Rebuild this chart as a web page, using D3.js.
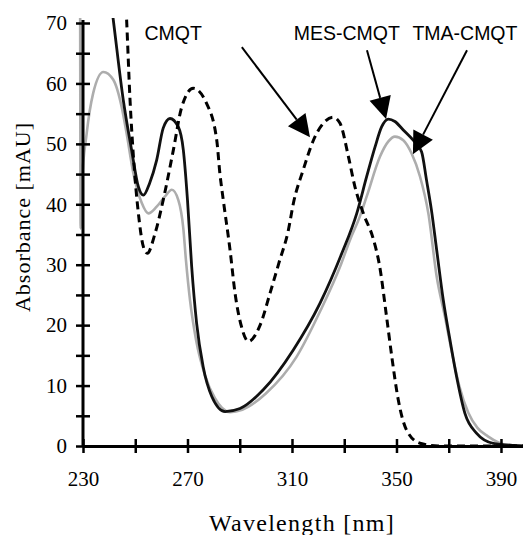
<!DOCTYPE html>
<html lang="en">
<head>
<meta charset="UTF-8">
<title>Absorbance spectra</title>
<style>
  body { margin: 0; background: #fff; }
</style>
</head>
<body>
<script src="https://d3js.org/d3.v7.min.js"></script>
<script>
    let width = 523;
    let height = 535;
    let serif = 'Liberation Serif';
    let sans = 'Liberation Sans';

    // MES-CMQT (solid black)
    let mesNm  = [240, 241.6, 245.4, 248.6, 251.2, 253.1, 255.5, 258.2, 260.7, 263.3, 266.5, 268.4, 270, 271.6, 273.5, 276, 279.3, 284.4, 290.1, 299, 310.5, 320.7, 329, 334.8, 338.6, 341.8, 344.3, 346.9, 349.4, 352.6, 356.4, 359.6, 361.5, 363.4, 365.4, 367.9, 370.5, 373, 376.2, 380.7, 387, 395, 400];
    let mesAbs = [76, 70.5, 57.3, 49.0, 42.9, 41.5, 43.5, 47.3, 52.6, 54.2, 52.8, 49.0, 40.7, 29.7, 20.3, 13.1, 8.2, 5.7, 6.2, 9.3, 15.9, 23.6, 31.8, 38.5, 44.6, 49.5, 52.8, 54.1, 53.7, 52.3, 50.6, 48.7, 44, 39, 32.4, 24.2, 17.5, 11.5, 5.4, 2.1, 0.45, 0.1, 0];

    // TMA-CMQT (grey)
    let tmaNm  = [228.9, 229.1, 229.5, 231.4, 233.9, 237.8, 241.6, 244.8, 246.7, 249.3, 252.5, 255, 258.2, 261.4, 264, 266.5, 268.4, 269.4, 271, 273.3, 276.7, 280.5, 286.3, 291, 300, 311.8, 321, 328.7, 332.2, 336, 338.6, 343.7, 346.9, 349.4, 352.6, 355.8, 359, 362.2, 365.4, 368.5, 371.2, 374, 377.5, 381, 385, 392, 400];
    let tmaAbs = [75, 36, 42.9, 51.7, 58.4, 61.9, 60.6, 56.1, 51.7, 45.1, 40.2, 38.5, 39.6, 41.3, 42.4, 40.7, 36, 30.8, 24, 17.5, 11.7, 7.9, 5.6, 6, 8.7, 14.8, 22.5, 30, 34.1, 38, 41.3, 47.9, 50.4, 51.2, 50.6, 48.4, 44.6, 38.5, 28, 21.5, 15.5, 10, 5.5, 3, 1.6, 0.2, 0];

    // CMQT (dashed)
    let cmqtNm  = [246, 246.7, 248, 249.3, 251.2, 253.1, 254.6, 257.6, 260.7, 264.6, 267.8, 272.2, 277.3, 281.2, 282.4, 283.7, 286.3, 288.2, 290.7, 293.3, 297.8, 301.6, 305, 308.6, 310.6, 314.3, 318.2, 322, 325.8, 328.4, 331.6, 334.1, 337.3, 341.1, 343.5, 346.2, 348.2, 350.7, 353.9, 359, 366, 400];
    let cmqtAbs = [77, 70.5, 57.3, 47.9, 38.5, 33, 31.9, 35.2, 40.7, 49, 56.1, 59.2, 56.7, 50.6, 45.1, 40.7, 32.4, 25.3, 19.7, 17.3, 20, 25.3, 30.3, 35.7, 40.3, 45.7, 50.6, 53.4, 54.4, 53.4, 47.9, 42.9, 38.5, 34.3, 29.9, 21.4, 14.8, 7.6, 2.6, 0.45, 0, 0];

    let xTicks = [230, 250, 270, 290, 310, 330, 350, 370, 390];
    let xLabels = [230, 270, 310, 350, 390];
    let yTicks = [0, 5, 10, 15, 20, 25, 30, 35, 40, 45, 50, 55, 60, 65, 70];

    // annotations: label, label position, arrow tail, arrow tip (data units)
    let labels = ['CMQT', 'MES-CMQT', 'TMA-CMQT'];
    let labelAt = [[264.5, 67.2], [331, 67.2], [376.2, 67.2]];
    let arrowFrom = [[290.8, 66.0], [338.7, 65.5], [377, 65.5]];
    let arrowTo = [[316.9, 51.1], [346, 54.1], [356.3, 48.3]];

    let xScale = d3.scaleLinear().domain([230, 400]).range([83, 527.1]);
    let yScale = d3.scaleLinear().domain([0, 70]).range([446, 23]);

    let svg = d3.select('body').append('svg')
        .attr('width', width)
        .attr('height', height)
        .style('display', 'block');

    svg.append('defs').append('clipPath').attr('id', 'plot')
        .append('rect').attr('x', 0).attr('y', 18).attr('width', width).attr('height', 432);

    let line = d3.line()
        .x(d => xScale(d[0]))
        .y(d => yScale(d[1]))
        .curve(d3.curveMonotoneX);

    let zip = (a, b) => a.map((v, i) => [v, b[i]]);

    let curves = svg.append('g').attr('clip-path', 'url(#plot)');
    curves.append('path')
        .attr('d', line(zip(tmaNm, tmaAbs)))
        .attr('fill', 'none').attr('stroke', '#adadad').attr('stroke-width', 2.6);
    curves.append('path')
        .attr('d', line(zip(mesNm, mesAbs)))
        .attr('fill', 'none').attr('stroke', '#111').attr('stroke-width', 2.8);
    curves.append('path')
        .attr('d', line(zip(cmqtNm, cmqtAbs)))
        .attr('fill', 'none').attr('stroke', '#000').attr('stroke-width', 3)
        .attr('stroke-dasharray', '8,5');

    // axes
    let xAxis = d3.axisBottom(xScale)
        .tickValues(xTicks)
        .tickSizeInner(7).tickSizeOuter(0).tickPadding(18)
        .tickFormat(d => xLabels.includes(d) ? d : '');
    let yAxis = d3.axisLeft(yScale)
        .tickValues(yTicks)
        .tickSizeInner(7).tickSizeOuter(0).tickPadding(9)
        .tickFormat(d => d % 10 === 0 ? d : '');

    let gx = svg.append('g')
        .attr('transform', 'translate(0,' + yScale(0) + ')')
        .call(xAxis);
    let gy = svg.append('g')
        .attr('transform', 'translate(' + xScale(230) + ',0)')
        .call(yAxis);

    [gx, gy].forEach(g => {
        g.attr('font-family', serif).attr('font-size', 21);
        g.select('.domain').attr('stroke', '#000').attr('stroke-width', 3);
        g.selectAll('.tick line').attr('stroke', '#000').attr('stroke-width', 2.5);
        g.selectAll('.tick text').attr('fill', '#000');
    });
    gx.selectAll('.tick line').attr('y1', -7).attr('y2', 7);
    gy.selectAll('.tick line').attr('x1', 7).attr('x2', -7);
    gy.select('.domain').attr('d', 'M0,' + yScale(0) + 'V20');

    // axis titles
    svg.append('text')
        .attr('x', 302).attr('y', 531)
        .attr('text-anchor', 'middle')
        .attr('font-family', serif)
        .attr('font-size', 24)
        .attr('letter-spacing', 1.3)
        .text('Wavelength [nm]');
    svg.append('text')
        .attr('transform', 'translate(30,217) rotate(-90)')
        .attr('text-anchor', 'middle')
        .attr('font-family', serif)
        .attr('font-size', 22)
        .attr('letter-spacing', 1)
        .text('Absorbance [mAU]');

    // annotations
    let ann = svg.append('g');
    labels.forEach((lab, i) => {
        ann.append('text')
            .attr('x', xScale(labelAt[i][0]))
            .attr('y', yScale(labelAt[i][1]))
            .attr('text-anchor', 'middle')
            .attr('font-family', sans)
            .attr('font-size', 19.5)
            .text(lab);

        let x0 = xScale(arrowFrom[i][0]), y0 = yScale(arrowFrom[i][1]);
        let x1 = xScale(arrowTo[i][0]), y1 = yScale(arrowTo[i][1]);
        let len = Math.hypot(x1 - x0, y1 - y0);
        let ux = (x1 - x0) / len, uy = (y1 - y0) / len;
        let headLen = 22, headHalf = 11;
        let bx = x1 - ux * headLen, by = y1 - uy * headLen;
        ann.append('line')
            .attr('x1', x0).attr('y1', y0)
            .attr('x2', bx).attr('y2', by)
            .attr('stroke', '#000').attr('stroke-width', 2);
        ann.append('polygon')
            .attr('points', [
                [x1, y1],
                [bx - uy * headHalf, by + ux * headHalf],
                [bx + uy * headHalf, by - ux * headHalf]
            ].map(p => p.join(',')).join(' '))
            .attr('fill', '#000');
    });
</script>
</body>
</html>
